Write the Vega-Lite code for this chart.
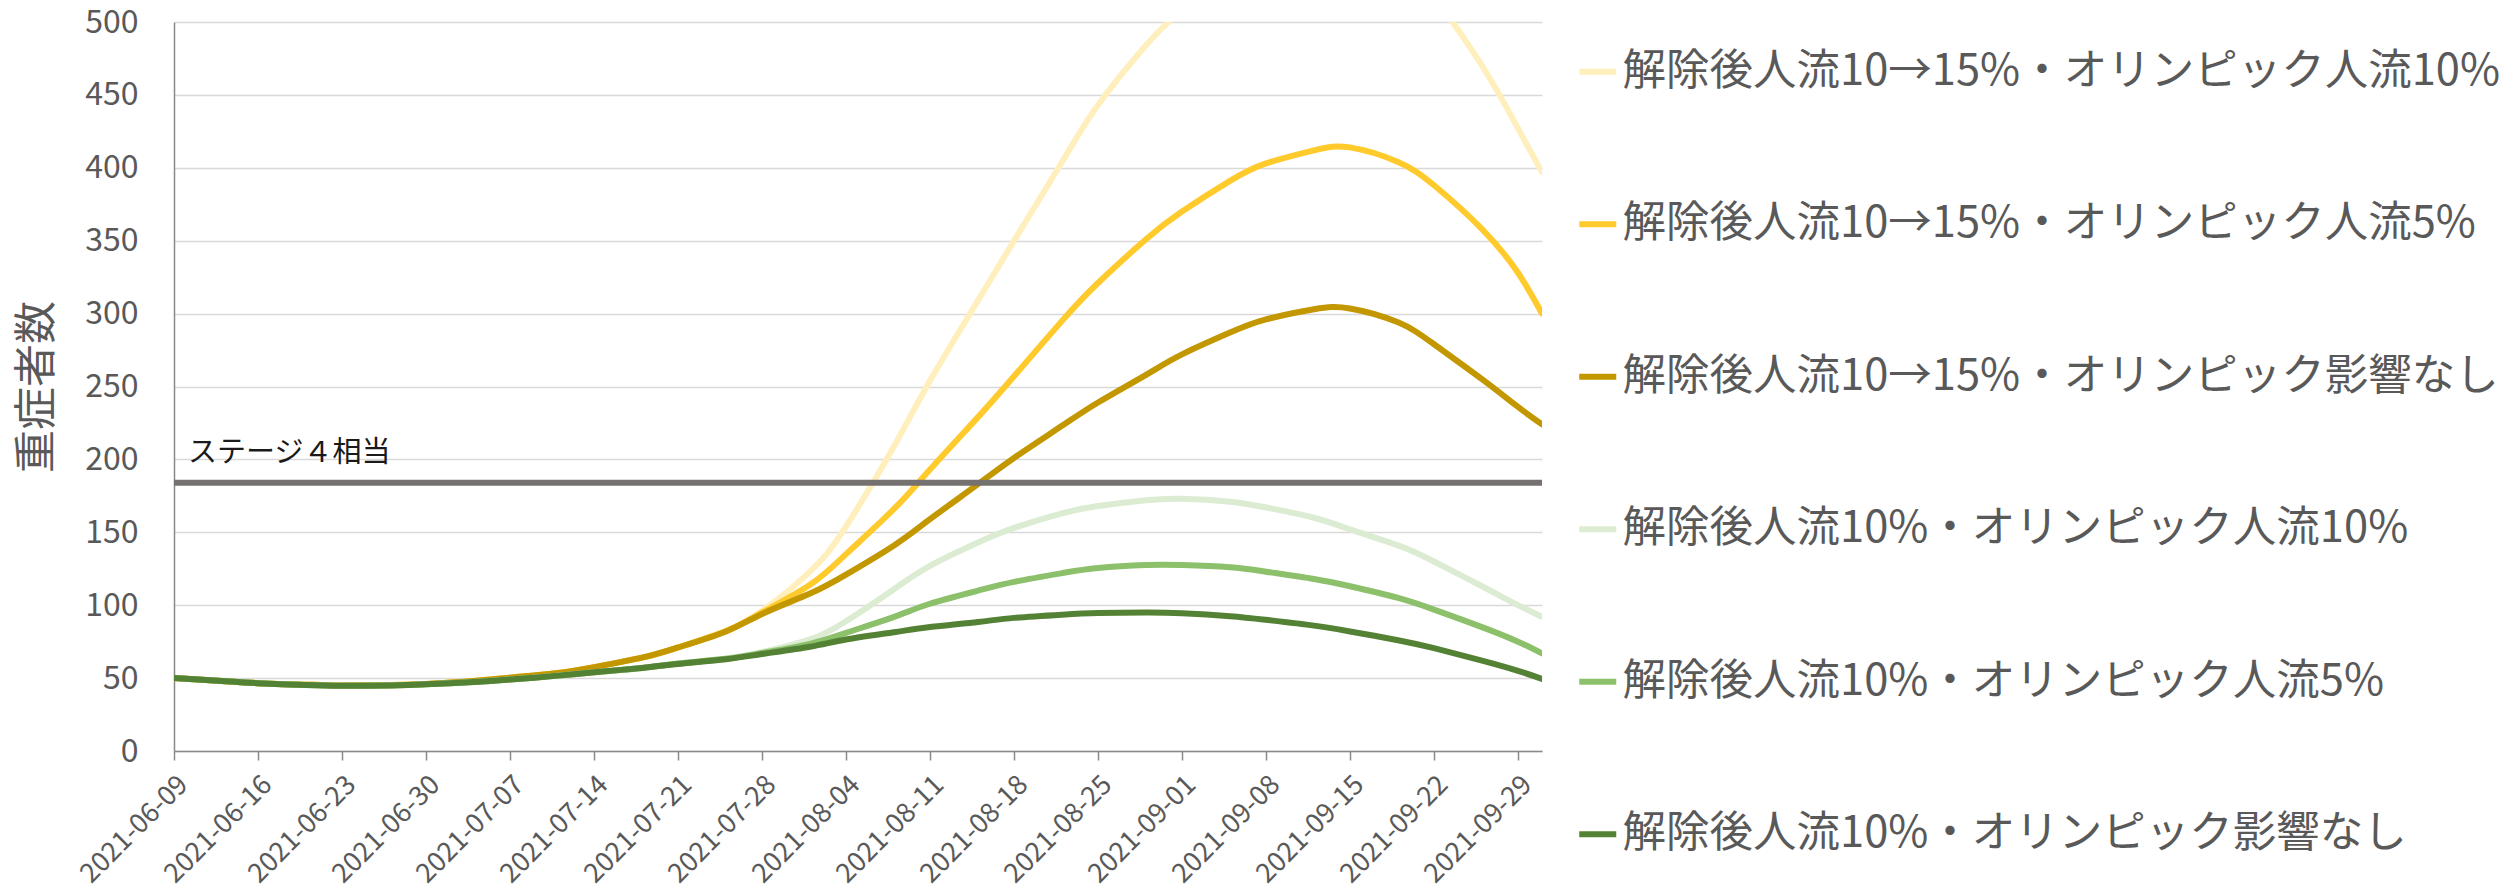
{
  "$schema": "https://vega.github.io/schema/vega-lite/v6.json",
  "width": 1368,
  "height": 729,
  "autosize": {"type": "none"},
  "padding": {"left": 174, "top": 22, "right": 972, "bottom": 142},
  "background": "white",
  "config": {"view": {"stroke": null}, "font": "Noto Sans CJK JP"},
  "layer": [
    {
      "data": {
        "values": [
          {"d": "2021-06-09T00:00", "解除後人流10→15%・オリンピック人流10%": 50, "解除後人流10→15%・オリンピック人流5%": 50, "解除後人流10→15%・オリンピック影響なし": 50, "解除後人流10%・オリンピック人流10%": 50, "解除後人流10%・オリンピック人流5%": 50, "解除後人流10%・オリンピック影響なし": 50},
          {"d": "2021-06-13T00:00", "解除後人流10→15%・オリンピック人流10%": 48, "解除後人流10→15%・オリンピック人流5%": 48, "解除後人流10→15%・オリンピック影響なし": 48, "解除後人流10%・オリンピック人流10%": 48, "解除後人流10%・オリンピック人流5%": 48, "解除後人流10%・オリンピック影響なし": 48},
          {"d": "2021-06-16T00:00", "解除後人流10→15%・オリンピック人流10%": 46.5, "解除後人流10→15%・オリンピック人流5%": 46.5, "解除後人流10→15%・オリンピック影響なし": 46.5, "解除後人流10%・オリンピック人流10%": 46.5, "解除後人流10%・オリンピック人流5%": 46.5, "解除後人流10%・オリンピック影響なし": 46.5},
          {"d": "2021-06-20T00:00", "解除後人流10→15%・オリンピック人流10%": 45.5, "解除後人流10→15%・オリンピック人流5%": 45.5, "解除後人流10→15%・オリンピック影響なし": 45.5, "解除後人流10%・オリンピック人流10%": 45.3, "解除後人流10%・オリンピック人流5%": 45.3, "解除後人流10%・オリンピック影響なし": 45.3},
          {"d": "2021-06-23T00:00", "解除後人流10→15%・オリンピック人流10%": 45, "解除後人流10→15%・オリンピック人流5%": 45, "解除後人流10→15%・オリンピック影響なし": 45, "解除後人流10%・オリンピック人流10%": 44.8, "解除後人流10%・オリンピック人流5%": 44.8, "解除後人流10%・オリンピック影響なし": 44.8},
          {"d": "2021-06-27T00:00", "解除後人流10→15%・オリンピック人流10%": 45.2, "解除後人流10→15%・オリンピック人流5%": 45.2, "解除後人流10→15%・オリンピック影響なし": 45.2, "解除後人流10%・オリンピック人流10%": 45, "解除後人流10%・オリンピック人流5%": 45, "解除後人流10%・オリンピック影響なし": 45},
          {"d": "2021-06-30T00:00", "解除後人流10→15%・オリンピック人流10%": 46, "解除後人流10→15%・オリンピック人流5%": 46, "解除後人流10→15%・オリンピック影響なし": 46, "解除後人流10%・オリンピック人流10%": 45.7, "解除後人流10%・オリンピック人流5%": 45.7, "解除後人流10%・オリンピック影響なし": 45.7},
          {"d": "2021-07-04T00:00", "解除後人流10→15%・オリンピック人流10%": 48, "解除後人流10→15%・オリンピック人流5%": 48, "解除後人流10→15%・オリンピック影響なし": 48, "解除後人流10%・オリンピック人流10%": 47.3, "解除後人流10%・オリンピック人流5%": 47.3, "解除後人流10%・オリンピック影響なし": 47.3},
          {"d": "2021-07-07T00:00", "解除後人流10→15%・オリンピック人流10%": 50.3, "解除後人流10→15%・オリンピック人流5%": 50.3, "解除後人流10→15%・オリンピック影響なし": 50.3, "解除後人流10%・オリンピック人流10%": 49, "解除後人流10%・オリンピック人流5%": 49, "解除後人流10%・オリンピック影響なし": 49},
          {"d": "2021-07-11T00:00", "解除後人流10→15%・オリンピック人流10%": 53.5, "解除後人流10→15%・オリンピック人流5%": 53.5, "解除後人流10→15%・オリンピック影響なし": 53.5, "解除後人流10%・オリンピック人流10%": 51.7, "解除後人流10%・オリンピック人流5%": 51.7, "解除後人流10%・オリンピック影響なし": 51.7},
          {"d": "2021-07-14T00:00", "解除後人流10→15%・オリンピック人流10%": 57.5, "解除後人流10→15%・オリンピック人流5%": 57.5, "解除後人流10→15%・オリンピック影響なし": 57.5, "解除後人流10%・オリンピック人流10%": 54, "解除後人流10%・オリンピック人流5%": 54, "解除後人流10%・オリンピック影響なし": 54},
          {"d": "2021-07-18T00:00", "解除後人流10→15%・オリンピック人流10%": 64, "解除後人流10→15%・オリンピック人流5%": 64, "解除後人流10→15%・オリンピック影響なし": 64, "解除後人流10%・オリンピック人流10%": 57, "解除後人流10%・オリンピック人流5%": 57, "解除後人流10%・オリンピック影響なし": 57},
          {"d": "2021-07-21T00:00", "解除後人流10→15%・オリンピック人流10%": 71, "解除後人流10→15%・オリンピック人流5%": 71, "解除後人流10→15%・オリンピック影響なし": 71, "解除後人流10%・オリンピック人流10%": 60, "解除後人流10%・オリンピック人流5%": 60, "解除後人流10%・オリンピック影響なし": 59.7},
          {"d": "2021-07-25T00:00", "解除後人流10→15%・オリンピック人流10%": 82.5, "解除後人流10→15%・オリンピック人流5%": 82.3, "解除後人流10→15%・オリンピック影響なし": 82, "解除後人流10%・オリンピック人流10%": 63.5, "解除後人流10%・オリンピック人流5%": 63.3, "解除後人流10%・オリンピック影響なし": 63},
          {"d": "2021-07-28T00:00", "解除後人流10→15%・オリンピック人流10%": 96, "解除後人流10→15%・オリンピック人流5%": 95, "解除後人流10→15%・オリンピック影響なし": 94, "解除後人流10%・オリンピック人流10%": 67.8, "解除後人流10%・オリンピック人流5%": 67.2, "解除後人流10%・オリンピック影響なし": 66.5},
          {"d": "2021-08-01T00:00", "解除後人流10→15%・オリンピック人流10%": 123, "解除後人流10→15%・オリンピック人流5%": 114, "解除後人流10→15%・オリンピック影響なし": 108, "解除後人流10%・オリンピック人流10%": 76.5, "解除後人流10%・オリンピック人流5%": 73.5, "解除後人流10%・オリンピック影響なし": 71.5},
          {"d": "2021-08-04T00:00", "解除後人流10→15%・オリンピック人流10%": 154, "解除後人流10→15%・オリンピック人流5%": 135, "解除後人流10→15%・オリンピック影響なし": 121, "解除後人流10%・オリンピック人流10%": 89, "解除後人流10%・オリンピック人流5%": 81, "解除後人流10%・オリンピック影響なし": 76.5},
          {"d": "2021-08-08T00:00", "解除後人流10→15%・オリンピック人流10%": 209, "解除後人流10→15%・オリンピック人流5%": 166, "解除後人流10→15%・オリンピック影響なし": 141, "解除後人流10%・オリンピック人流10%": 111, "解除後人流10%・オリンピック人流5%": 92, "解除後人流10%・オリンピック影響なし": 81.5},
          {"d": "2021-08-11T00:00", "解除後人流10→15%・オリンピック人流10%": 254, "解除後人流10→15%・オリンピック人流5%": 193, "解除後人流10→15%・オリンピック影響なし": 159, "解除後人流10%・オリンピック人流10%": 127, "解除後人流10%・オリンピック人流5%": 101, "解除後人流10%・オリンピック影響なし": 85},
          {"d": "2021-08-15T00:00", "解除後人流10→15%・オリンピック人流10%": 309, "解除後人流10→15%・オリンピック人流5%": 229, "解除後人流10→15%・オリンピック影響なし": 183, "解除後人流10%・オリンピック人流10%": 143, "解除後人流10%・オリンピック人流5%": 110, "解除後人流10%・オリンピック影響なし": 88.5},
          {"d": "2021-08-18T00:00", "解除後人流10→15%・オリンピック人流10%": 350, "解除後人流10→15%・オリンピック人流5%": 257, "解除後人流10→15%・オリンピック影響なし": 201, "解除後人流10%・オリンピック人流10%": 153, "解除後人流10%・オリンピック人流5%": 116, "解除後人流10%・オリンピック影響なし": 91.3},
          {"d": "2021-08-22T00:00", "解除後人流10→15%・オリンピック人流10%": 404, "解除後人流10→15%・オリンピック人流5%": 295, "解除後人流10→15%・オリンピック影響なし": 223, "解除後人流10%・オリンピック人流10%": 163, "解除後人流10%・オリンピック人流5%": 122, "解除後人流10%・オリンピック影響なし": 93.5},
          {"d": "2021-08-25T00:00", "解除後人流10→15%・オリンピック人流10%": 443, "解除後人流10→15%・オリンピック人流5%": 321, "解除後人流10→15%・オリンピック影響なし": 239, "解除後人流10%・オリンピック人流10%": 168, "解除後人流10%・オリンピック人流5%": 125.5, "解除後人流10%・オリンピック影響なし": 94.6},
          {"d": "2021-08-29T00:00", "解除後人流10→15%・オリンピック人流10%": 484, "解除後人流10→15%・オリンピック人流5%": 351, "解除後人流10→15%・オリンピック影響なし": 258, "解除後人流10%・オリンピック人流10%": 172, "解除後人流10%・オリンピック人流5%": 127.5, "解除後人流10%・オリンピック影響なし": 95},
          {"d": "2021-09-01T00:00", "解除後人流10→15%・オリンピック人流10%": 508, "解除後人流10→15%・オリンピック人流5%": 370, "解除後人流10→15%・オリンピック影響なし": 272, "解除後人流10%・オリンピック人流10%": 173, "解除後人流10%・オリンピック人流5%": 127.5, "解除後人流10%・オリンピック影響なし": 94.5},
          {"d": "2021-09-05T00:00", "解除後人流10→15%・オリンピック人流10%": 532, "解除後人流10→15%・オリンピック人流5%": 391, "解除後人流10→15%・オリンピック影響なし": 287, "解除後人流10%・オリンピック人流10%": 171, "解除後人流10%・オリンピック人流5%": 126, "解除後人流10%・オリンピック影響なし": 92.5},
          {"d": "2021-09-08T00:00", "解除後人流10→15%・オリンピック人流10%": 548, "解除後人流10→15%・オリンピック人流5%": 403, "解除後人流10→15%・オリンピック影響なし": 296, "解除後人流10%・オリンピック人流10%": 167, "解除後人流10%・オリンピック人流5%": 123, "解除後人流10%・オリンピック影響なし": 90},
          {"d": "2021-09-12T00:00", "解除後人流10→15%・オリンピック人流10%": 561, "解除後人流10→15%・オリンピック人流5%": 412, "解除後人流10→15%・オリンピック影響なし": 303, "解除後人流10%・オリンピック人流10%": 160, "解除後人流10%・オリンピック人流5%": 118, "解除後人流10%・オリンピック影響なし": 86},
          {"d": "2021-09-15T00:00", "解除後人流10→15%・オリンピック人流10%": 562, "解除後人流10→15%・オリンピック人流5%": 414, "解除後人流10→15%・オリンピック影響なし": 303.5, "解除後人流10%・オリンピック人流10%": 152, "解除後人流10%・オリンピック人流5%": 113, "解除後人流10%・オリンピック影響なし": 82},
          {"d": "2021-09-19T00:00", "解除後人流10→15%・オリンピック人流10%": 546, "解除後人流10→15%・オリンピック人流5%": 404, "解除後人流10→15%・オリンピック影響なし": 294, "解除後人流10%・オリンピック人流10%": 141, "解除後人流10%・オリンピック人流5%": 105, "解除後人流10%・オリンピック影響なし": 76},
          {"d": "2021-09-22T00:00", "解除後人流10→15%・オリンピック人流10%": 518, "解除後人流10→15%・オリンピック人流5%": 388, "解除後人流10→15%・オリンピック影響なし": 279, "解除後人流10%・オリンピック人流10%": 130, "解除後人流10%・オリンピック人流5%": 97, "解除後人流10%・オリンピック影響なし": 70.5},
          {"d": "2021-09-26T00:00", "解除後人流10→15%・オリンピック人流10%": 470, "解除後人流10→15%・オリンピック人流5%": 358, "解除後人流10→15%・オリンピック影響なし": 255, "解除後人流10%・オリンピック人流10%": 113, "解除後人流10%・オリンピック人流5%": 85, "解除後人流10%・オリンピック影響なし": 62},
          {"d": "2021-09-29T00:00", "解除後人流10→15%・オリンピック人流10%": 427, "解除後人流10→15%・オリンピック人流5%": 328, "解除後人流10→15%・オリンピック影響なし": 236, "解除後人流10%・オリンピック人流10%": 100, "解除後人流10%・オリンピック人流5%": 75, "解除後人流10%・オリンピック影響なし": 55},
          {"d": "2021-10-01T00:00", "解除後人流10→15%・オリンピック人流10%": 397, "解除後人流10→15%・オリンピック人流5%": 300, "解除後人流10→15%・オリンピック影響なし": 224, "解除後人流10%・オリンピック人流10%": 92, "解除後人流10%・オリンピック人流5%": 67, "解除後人流10%・オリンピック影響なし": 49.5}
        ]
      },
      "transform": [
        {"fold": ["解除後人流10→15%・オリンピック人流10%", "解除後人流10→15%・オリンピック人流5%", "解除後人流10→15%・オリンピック影響なし", "解除後人流10%・オリンピック人流10%", "解除後人流10%・オリンピック人流5%", "解除後人流10%・オリンピック影響なし"], "as": ["s", "v"]}
      ],
      "mark": {"type": "line", "interpolate": "natural", "strokeWidth": 6, "strokeCap": "round", "strokeJoin": "round", "clip": true},
      "encoding": {
        "x": {
          "field": "d",
          "type": "temporal",
          "scale": {"domain": [{"year": 2021, "month": 6, "date": 9}, {"year": 2021, "month": 10, "date": 1}]},
          "axis": {
            "title": null,
            "format": "%Y-%m-%d",
            "values": [
              {"year": 2021, "month": 6, "date": 9}, {"year": 2021, "month": 6, "date": 16}, {"year": 2021, "month": 6, "date": 23}, {"year": 2021, "month": 6, "date": 30},
              {"year": 2021, "month": 7, "date": 7}, {"year": 2021, "month": 7, "date": 14}, {"year": 2021, "month": 7, "date": 21}, {"year": 2021, "month": 7, "date": 28},
              {"year": 2021, "month": 8, "date": 4}, {"year": 2021, "month": 8, "date": 11}, {"year": 2021, "month": 8, "date": 18}, {"year": 2021, "month": 8, "date": 25},
              {"year": 2021, "month": 9, "date": 1}, {"year": 2021, "month": 9, "date": 8}, {"year": 2021, "month": 9, "date": 15}, {"year": 2021, "month": 9, "date": 22},
              {"year": 2021, "month": 9, "date": 29}
            ],
            "labelAngle": -45,
            "labelFontSize": 27,
            "labelColor": "#595959",
            "labelOverlap": false,
            "labelPadding": 11,
            "labelFlush": false,
            "labelBound": false,
            "grid": false,
            "domainColor": "#898989",
            "domainWidth": 1.5,
            "tickColor": "#898989",
            "tickWidth": 1.5,
            "tickSize": 9
          }
        },
        "y": {
          "field": "v",
          "type": "quantitative",
          "scale": {"domain": [0, 500], "nice": false},
          "axis": {
            "title": "重症者数",
            "titleFontSize": 43,
            "titleFontWeight": "normal",
            "titleColor": "#595959",
            "titleX": -137,
            "titleY": 364.5,
            "titleAngle": 270,
            "titleAlign": "center",
            "titleBaseline": "middle",
            "values": [0, 50, 100, 150, 200, 250, 300, 350, 400, 450, 500],
            "labelFontSize": 32,
            "labelColor": "#595959",
            "labelPadding": 36,
            "ticks": false,
            "grid": true,
            "gridColor": "#D9D9D9",
            "gridWidth": 1.5,
            "domainColor": "#898989",
            "domainWidth": 1.5
          }
        },
        "color": {
          "field": "s",
          "type": "nominal",
          "scale": {
            "domain": ["解除後人流10→15%・オリンピック人流10%", "解除後人流10→15%・オリンピック人流5%", "解除後人流10→15%・オリンピック影響なし", "解除後人流10%・オリンピック人流10%", "解除後人流10%・オリンピック人流5%", "解除後人流10%・オリンピック影響なし"],
            "range": ["#FFEFBD", "#FFCA2C", "#C29700", "#DCECD2", "#8CC06B", "#548235"]
          },
          "legend": {
            "title": null,
            "orient": "none",
            "legendX": 1402,
            "legendY": 28,
            "direction": "vertical",
            "symbolType": "stroke",
            "symbolStrokeWidth": 6,
            "symbolSize": 1369,
            "labelFontSize": 43.5,
            "labelColor": "#595959",
            "labelLimit": 1200,
            "labelOffset": 3,
            "rowPadding": 107.5,
            "padding": 0
          }
        }
      }
    },
    {
      "data": {"values": [{"d": "2021-06-09T00:00", "stage": 184, "label": "ステージ４相当"}]},
      "layer": [
        {
          "mark": {"type": "rule", "color": "#767171", "strokeWidth": 6},
          "encoding": {"y": {"field": "stage", "type": "quantitative"}}
        },
        {
          "mark": {"type": "text", "align": "left", "baseline": "alphabetic", "dx": 14, "dy": -21, "fontSize": 29, "color": "#1a1a1a"},
          "encoding": {
            "x": {"field": "d", "type": "temporal"},
            "y": {"field": "stage", "type": "quantitative"},
            "text": {"field": "label"}
          }
        }
      ]
    }
  ]
}
